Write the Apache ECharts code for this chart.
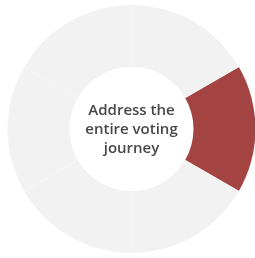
<!DOCTYPE html>
<html>
<head>
<meta charset="utf-8">
<script src="https://cdn.jsdelivr.net/npm/echarts@6/dist/echarts.min.js"></script>
<style>
  html, body { margin: 0; padding: 0; background: #fff; }
  #chart { width: 255px; height: 258px; }
</style>
</head>
<body>
<div id="chart"></div>
<script>
// 环形图数据
const segments = ['s1', 's2', 's3', 's4', 's5', 's6'];
const values = [1, 1, 1, 1, 1, 1];
const highlight = 0; // 红色那一块
const centerText = 'Address the\nentire voting\njourney';

const chart = echarts.init(document.getElementById('chart'));
const option = {
  animation: false,
  graphic: [{
    type: 'text',
    x: 131.5,
    y: 130,
    style: {
      text: centerText,
      align: 'center',
      verticalAlign: 'middle',
      fontFamily: 'Open Sans',
      fontWeight: 600,
      fontSize: 15,
      lineHeight: 19,
      fill: '#484848'
    }
  }],
  series: [{
    type: 'pie',
    center: [131.5, 129],
    radius: [62, 124],
    startAngle: 30,
    clockwise: true,
    silent: true,
    label: { show: false },
    labelLine: { show: false },
    data: segments.map((name, i) => ({
      name: name,
      value: values[i],
      itemStyle: i === highlight
        ? { color: '#a34442', borderWidth: 0 }
        : { color: '#f2f2f2', borderColor: 'rgba(255,255,255,0.25)', borderWidth: 0.6 }
    }))
  }]
};
chart.setOption(option);
</script>
</body>
</html>
